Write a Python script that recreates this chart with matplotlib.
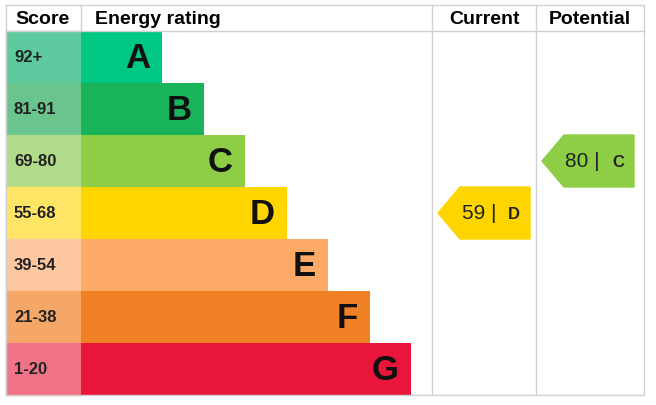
import matplotlib.pyplot as plt
from matplotlib.patches import Polygon, Rectangle

# Band data
bands = ["A", "B", "C", "D", "E", "F", "G"]
scores = ["92+", "81-91", "69-80", "55-68", "39-54", "21-38", "1-20"]
bar_len = [81, 123, 164, 206, 247, 289, 330]
bar_colors = ["#00c781", "#19b459", "#8dce46", "#ffd500", "#fcaa65", "#ef8023", "#e9153b"]
score_colors = ["#5fc9a0", "#69c48d", "#b3dc8a", "#ffe466", "#fdc7a0", "#f4a766", "#f07388"]
current = (59, "D")
potential = (80, "C")

plt.rcParams["font.family"] = ["Liberation Sans", "DejaVu Sans"]
fig = plt.figure(figsize=(6.56, 4.06), dpi=100)
ax = fig.add_axes([0, 0, 1, 1])
ax.set_xlim(0, 656)
ax.set_ylim(406, 0)
ax.axis("off")

top, hdr, rh = 6, 32, 52
x0, xs, xb, xc, xp, x1 = 6, 81, 81, 432, 536, 644
grid = "#d0d0d0"

for i, b in enumerate(bands):
    y = hdr + i * rh
    ax.add_patch(Rectangle((x0, y), xs - x0, rh, color=score_colors[i]))
    ax.barh(y + rh / 2, bar_len[i], height=rh, left=xb, color=bar_colors[i])
    ax.text(x0 + 8, y + rh / 2, scores[i], va="center", ha="left", fontsize=12, fontweight="bold", color="#222")
    ax.text(xb + bar_len[i] - 12, y + rh / 2 + 1, b, va="center", ha="right", fontsize=25, fontweight="bold",
            color="#111", stretch="condensed")

# grid lines
ax.plot([x0, x1, x1, x0, x0], [top, top, 396, 396, top], color=grid, lw=1)
ax.plot([x0, x1], [hdr, hdr], color=grid, lw=1)
for x in [xs, xc, xp]:
    ax.plot([x, x], [top, 396], color=grid, lw=1, zorder=0)

ax.text(43, 19, "Score", ha="center", va="center", fontsize=14, fontweight="bold")
ax.text(95, 19, "Energy rating", ha="left", va="center", fontsize=14, fontweight="bold")
ax.text(484, 19, "Current", ha="center", va="center", fontsize=14, fontweight="bold")
ax.text(590, 19, "Potential", ha="center", va="center", fontsize=14, fontweight="bold")

def arrow(xl, xr, val, band):
    i = bands.index(band)
    y = hdr + i * rh
    ax.add_patch(Polygon([(xl, y + rh / 2), (xl + 22, y), (xr, y), (xr, y + rh), (xl + 22, y + rh)],
                         color=bar_colors[i]))
    ax.text(xl + 58, y + rh / 2, f"{val} |", ha="right", va="center", fontsize=15, color="#222")
    ax.text(xl + 70, y + rh / 2 + 1, band, ha="left", va="center", fontsize=12, fontweight="bold", color="#222")

arrow(438, 530, *current)
arrow(542, 634, *potential)

fig.savefig("out.png", dpi=100)
